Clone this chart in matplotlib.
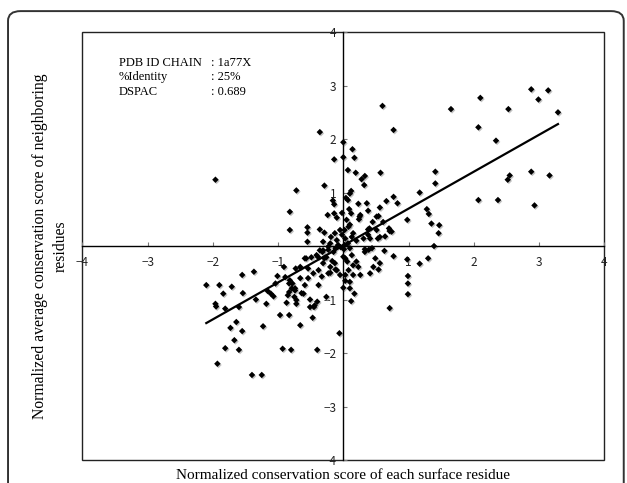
import matplotlib
matplotlib.use("Agg")
import matplotlib.pyplot as plt
import matplotlib.patheffects as pe
from matplotlib.patches import FancyBboxPatch, Rectangle

# surface residue score (x) vs neighbour average (y)
pts = [
    # upper right
    (1.65, 2.56), (2.07, 2.22), (2.10, 2.77), (2.53, 2.56), (2.34, 1.97),
    (2.88, 2.93), (2.99, 2.74), (3.14, 2.91), (3.29, 2.50), (0.60, 2.62),
    (0.77, 2.17), (2.88, 1.39), (3.16, 1.32), (2.55, 1.32), (2.52, 1.24),
    (2.07, 0.86), (2.37, 0.86), (2.93, 0.76), (1.41, 1.39), (1.41, 1.17),
    (1.17, 1.00), (1.28, 0.69), (1.31, 0.60), (1.35, 0.42), (1.47, 0.39),
    (1.46, 0.24), (1.39, 0.00), (0.98, 0.49), (0.66, 0.84), (0.77, 0.92),
    (0.83, 0.80), (0.57, 1.37), (0.56, 0.72), (0.61, 0.45), (0.51, 0.55),
    (0.70, 0.33), (0.71, 0.28), (0.56, 0.17), (0.38, 0.21), (0.40, 0.33),
    (0.54, 0.56), (0.45, 0.45), (0.51, 0.30), (0.31, 0.14), (0.25, 0.55),
    (0.53, 0.14), (0.64, 0.18), (0.74, 0.27),
    # upper centre
    (-0.36, 2.13), (0.00, 1.94), (0.14, 1.81), (0.00, 1.66), (-0.14, 1.62),
    (0.17, 1.65), (0.07, 1.42), (0.19, 1.37), (0.33, 1.31), (0.28, 1.25),
    (0.32, 1.14), (-0.29, 1.13), (-0.72, 1.04), (-1.96, 1.24), (0.12, 1.03),
    (0.10, 0.98), (0.07, 0.86), (-0.16, 0.85), (-0.14, 0.78), (0.04, 0.90),
    (0.23, 0.79), (0.36, 0.80), (-0.82, 0.64), (-0.24, 0.58), (-0.14, 0.61),
    (-0.02, 0.62), (0.09, 0.69), (0.12, 0.61), (0.24, 0.50), (0.38, 0.66),
    (0.26, 0.58), (-0.10, 0.53), (0.05, 0.49), (-0.82, 0.30), (-0.55, 0.35),
    (-0.55, 0.25), (-0.55, 0.08), (-0.36, 0.31), (-0.29, 0.25), (-0.19, 0.17),
    (-0.13, 0.24), (-0.10, 0.11), (-0.31, 0.08), (-0.20, 0.05), (-0.08, 0.02),
    (-0.05, 0.30), (-0.02, 0.21), (0.08, 0.36), (0.15, 0.24), (0.13, 0.17),
    (0.20, 0.10), (0.03, 0.14), (0.07, 0.05), (0.02, 0.30), (0.38, 0.31),
    (0.41, 0.14), (0.10, 0.40),
    # around the origin
    (-0.04, -0.02), (0.02, 0.02), (-0.12, -0.04), (0.10, -0.04), (0.01, -0.06),
    (-0.23, -0.01), (-0.31, -0.08), (0.33, -0.06), (0.44, -0.04),
    # lower right
    (0.63, -0.09), (0.77, -0.19), (0.98, -0.25), (1.17, -0.33), (1.30, -0.23),
    (0.99, -0.56), (0.99, -0.70), (0.99, -0.90), (0.71, -1.16), (0.49, -0.23),
    (0.56, -0.32), (0.46, -0.39), (0.54, -0.44), (0.41, -0.51), (0.26, -0.54),
    (0.15, -0.54), (0.03, -0.54), (-0.05, -0.54), (0.10, -0.67), (0.10, -0.79),
    (0.00, -0.78), (0.17, -0.89), (0.12, -1.03), (-0.06, -1.63), (0.03, -0.23),
    (0.13, -0.17), (0.20, -0.29), (0.33, -0.11), (0.39, -0.07), (0.15, -0.36),
    (0.23, -0.39), (0.08, -0.45), (0.00, -0.20), (0.06, -0.29), (0.03, -0.65),
    # lower left
    (-0.36, -0.08), (-0.59, -0.23), (-0.49, -0.21), (-0.41, -0.17), (-0.32, -0.11),
    (-0.23, -0.07), (-0.15, -0.11), (-0.26, -0.21), (-0.31, -0.32), (-0.73, -0.42),
    (-0.66, -0.39), (-0.54, -0.42), (-0.46, -0.51), (-0.38, -0.45), (-0.20, -0.39),
    (-0.23, -0.51), (-0.13, -0.32), (-0.10, -0.45), (-0.33, -0.57), (-0.54, -0.60),
    (-0.66, -0.60), (-0.59, -0.73), (-0.38, -0.73), (-0.74, -0.79), (-0.64, -0.88),
    (-0.26, -0.95), (-0.20, -0.50), (-0.12, -0.44), (-0.17, -0.28), (-0.29, -0.23),
    (-0.39, -0.20), (-0.57, -0.23), (-0.82, -0.64), (-0.83, -0.70), (-0.79, -0.79),
    (-0.85, -0.92), (-0.89, -0.58), (-0.91, -0.39), (-1.01, -0.56), (-1.04, -0.70),
    (-0.72, -1.01), (-0.72, -1.08), (-0.87, -1.06), (-0.61, -0.89), (-0.51, -1.00),
    (-0.51, -1.14), (-0.45, -1.14), (-0.40, -1.04), (-0.44, -1.11), (-0.47, -1.34),
    (-0.66, -1.48), (-0.97, -1.29), (-0.83, -1.29), (-1.18, -1.08), (-1.11, -0.89),
    (-1.07, -0.94), (-1.16, -0.84), (-1.34, -1.00), (-1.37, -0.48), (-1.55, -0.54),
    (-1.54, -0.88), (-1.60, -1.14), (-1.71, -0.76), (-1.84, -0.89), (-1.90, -0.73),
    (-2.10, -0.73), (-1.96, -1.08), (-1.95, -1.13), (-1.81, -1.17), (-1.64, -1.42),
    (-1.73, -1.53), (-1.55, -1.59), (-1.23, -1.50), (-1.67, -1.76), (-1.81, -1.91),
    (-1.60, -1.94), (-1.93, -2.20), (-1.40, -2.41), (-1.25, -2.41), (-0.93, -1.92),
    (-0.80, -1.94), (-0.40, -1.94), (-0.78, -0.70), (-0.74, -0.83), (-0.83, -0.86),
    (-0.75, -0.95),
]
score_x = [p[0] for p in pts]
score_y = [p[1] for p in pts]

# regression line ends
fit_x = [-2.10, 3.29]
fit_y = [-1.44, 2.28]

ticks = [-4, -3, -2, -1, 1, 2, 3, 4]
info_keys = ["PDB ID CHAIN", "%Identity", "DSPAC"]
info_vals = ["1a77X", "25%", "0.689"]

serif = "Liberation Serif"
tick_font = ["Noto Sans CJK JP", "DejaVu Sans"]

fig = plt.figure(figsize=(6.27, 4.83), dpi=100)

# rounded outer frame
frame = FancyBboxPatch((0.0128, -0.05), 0.982, 1.027,
                       boxstyle="round,pad=0,rounding_size=0.02",
                       transform=fig.transFigure, fill=False,
                       edgecolor="#333333", linewidth=1.4)
fig.patches.append(frame)

ax = fig.add_axes([0.1313, 0.0476, 0.8325, 0.886])
ax.set_xlim(-4, 4)
ax.set_ylim(-4, 4)

# axes cross at zero, box drawn separately
ax.spines["left"].set_position("zero")
ax.spines["bottom"].set_position("zero")
ax.spines["top"].set_visible(False)
ax.spines["right"].set_visible(False)
for s in ("left", "bottom"):
    ax.spines[s].set_linewidth(1.0)
    ax.spines[s].set_color("black")
ax.add_patch(Rectangle((0, 0), 1, 1, transform=ax.transAxes, fill=False,
                       edgecolor="#222222", linewidth=1.0, clip_on=False))

ax.set_xticks(ticks)
ax.set_yticks(ticks)
ax.set_xticklabels([str(t).replace("-", "\u2212") for t in ticks])
ax.set_yticklabels([str(t).replace("-", "\u2212") for t in ticks])
ax.tick_params(direction="in", length=3, width=0.8, color="#777777",
               labelsize=8.5, colors="#222222")
ax.tick_params(axis="x", pad=7)
ax.tick_params(axis="y", pad=5)
for lab in ax.get_xticklabels() + ax.get_yticklabels():
    lab.set_family(tick_font)

ax.plot(score_x, score_y, linestyle="none", marker="D", markersize=3.3,
        color="black", markeredgewidth=0,
        path_effects=[pe.SimplePatchShadow(offset=(0.8, -0.9),
                                           shadow_rgbFace="#999999", alpha=0.6),
                      pe.Normal()])
ax.plot(fit_x, fit_y, color="black", linewidth=1.6)

ax.set_xlabel("Normalized conservation score of each surface residue",
              family=serif, fontsize=11)
ax.xaxis.set_label_coords(0.5, -0.021)
ax.set_ylabel("Normalized average conservation score of neighboring\nresidues",
              family=serif, fontsize=11.3, linespacing=1.35)
ax.yaxis.set_label_coords(-0.027, 0.5)

for i, (k, v) in enumerate(zip(info_keys, info_vals)):
    yy = 0.927 - i * 0.033
    ax.text(0.070, yy, k, transform=ax.transAxes, family=serif,
            fontsize=9, va="center", ha="left")
    ax.text(0.247, yy, ": " + v, transform=ax.transAxes, family=serif,
            fontsize=9, va="center", ha="left")

fig.savefig("out.png", dpi=100)
